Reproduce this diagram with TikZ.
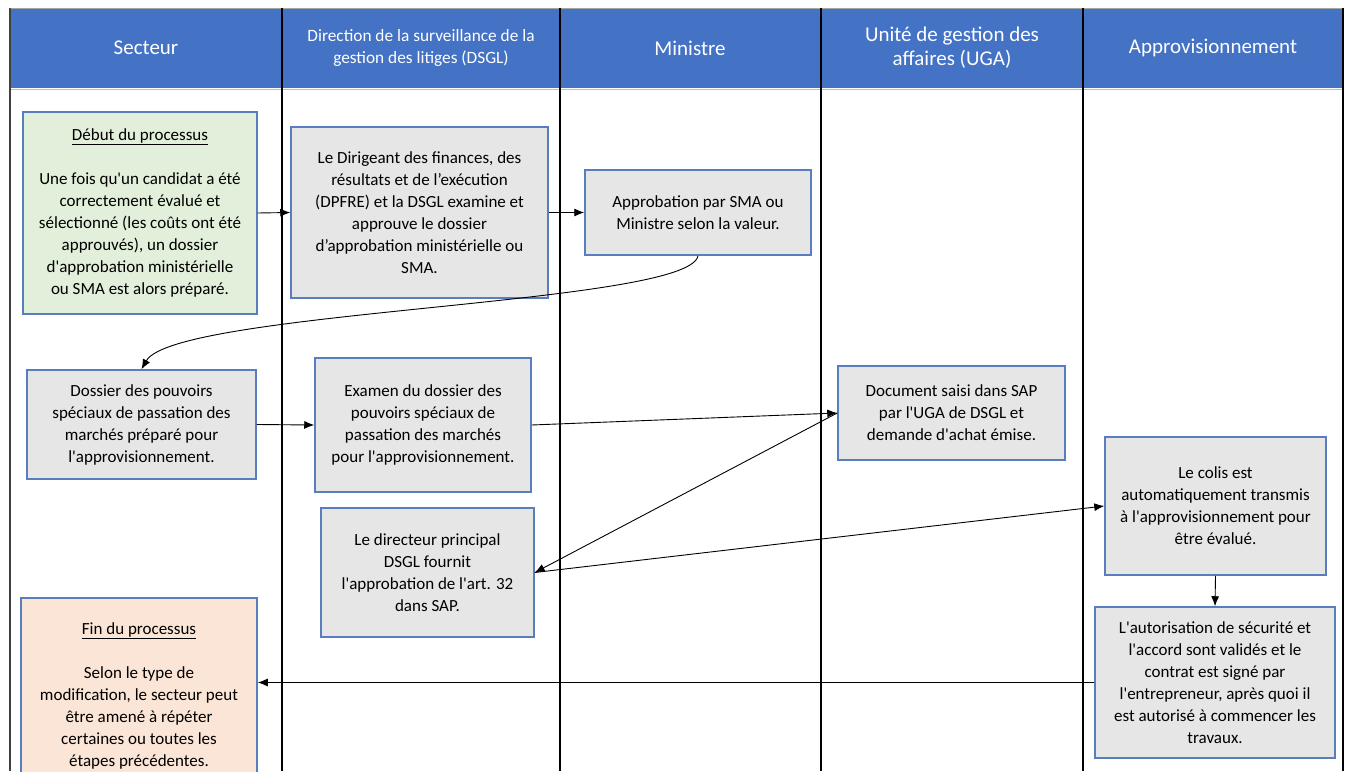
\documentclass[tikz,border=0pt]{standalone}
\usepackage{fontspec}
\setmainfont{Carlito}[Ligatures=TeXOff]
\usetikzlibrary{arrows.meta}
\definecolor{hdrblue}{HTML}{4472C4}
\definecolor{boxline}{HTML}{5A7DBF}
\definecolor{boxgray}{HTML}{E6E6E6}
\definecolor{boxgreen}{HTML}{E2EFDA}
\definecolor{boxpeach}{HTML}{FBE5D6}
\begin{document}
\begin{tikzpicture}[x=1pt,y=-1pt,
		every node/.style={align=center, inner sep=0pt, font=\fontsize{17}{22}\selectfont},
		lanehead/.style={text=white, font=\fontsize{21}{24}\selectfont},
		task/.style={draw=boxline, line width=1.5pt, fill=boxgray},
		flow/.style={-{Latex[length=10pt,width=8pt]}, line width=0.9pt}]
	\useasboundingbox (0,0) rectangle (1346,771);
	\clip (0,0) rectangle (1346,771);
	% en-tete des couloirs
	\fill [hdrblue] (10,8) rectangle (1343,88);
	\draw [black!35, line width=1pt] (10,8) -- (1343,8);
	\draw [black!25, line width=1pt] (10,89) -- (1343,89);
	\node [lanehead] (secteur) at (146,48) {Secteur};
	\node [lanehead, font=\fontsize{17.3}{21.5}\selectfont] (dsgl) at (421,48) {Direction de la surveillance de la\\gestion des litiges (DSGL)};
	\node [lanehead] (ministre) at (690,48) {Ministre};
	\node [lanehead] (uga) at (952,48) {Unité de gestion des\\affaires (UGA)};
	\node [lanehead] (appro) at (1213,48) {Approvisionnement};
	\draw [black!75, line width=2pt] (10,8) -- (10,771);
	\foreach \x in {282,560,821,1083,1343}
		\draw [line width=2.2pt] (\x,8) -- (\x,771);
	% etapes
	\node [task, fill=boxgreen, minimum width=234pt, minimum height=202pt] (start) at (140,213)
		{\underline{Début du processus}\\[22pt]Une fois qu'un candidat a été\\correctement évalué et\\sélectionné (les coûts ont été\\approuvés), un dossier\\d'approbation ministérielle\\ou SMA est alors préparé.};
	\node [task, minimum width=257pt, minimum height=171pt] (dpfre) at (419.5,212.5)
		{Le Dirigeant des finances, des\\résultats et de l’exécution\\(DPFRE) et la DSGL examine et\\approuve le dossier\\d’approbation ministérielle ou\\SMA.};
	\node [task, minimum width=226pt, minimum height=85pt] (approb) at (698,212.5)
		{Approbation par SMA ou\\Ministre selon la valeur.};
	\node [task, minimum width=229pt, minimum height=109pt] (dossier) at (141.5,424.5)
		{Dossier des pouvoirs\\spéciaux de passation des\\marchés préparé pour\\l'approvisionnement.};
	\node [task, minimum width=216pt, minimum height=134pt] (examen) at (423,425)
		{Examen du dossier des\\pouvoirs spéciaux de\\passation des marchés\\pour l'approvisionnement.};
	\node [task, minimum width=227pt, minimum height=94pt] (saisie) at (951.5,413)
		{Document saisi dans SAP\\par l'UGA de DSGL et\\demande d'achat émise.};
	\node [task, minimum width=213pt, minimum height=129pt] (directeur) at (427.5,572.5)
		{Le directeur principal\\DSGL fournit\\l'approbation de l'art. 32\\dans SAP.};
	\node [task, minimum width=221pt, minimum height=138pt] (colis) at (1215.5,506)
		{Le colis est\\automatiquement transmis\\à l'approvisionnement pour\\être évalué.};
	\node [task, minimum width=240pt, minimum height=151pt] (autor) at (1215,682.5)
		{L'autorisation de sécurité et\\l'accord sont validés et le\\contrat est signé par\\l'entrepreneur, après quoi il\\est autorisé à commencer les\\travaux.};
	\node [task, fill=boxpeach, minimum width=236pt, minimum height=196pt] (fin) at (139,696)
		{\underline{Fin du processus}\\[22pt]Selon le type de\\modification, le secteur peut\\être amené à répéter\\certaines ou toutes les\\étapes précédentes.};
	% liens
	\draw [flow] (start.east) -- (dpfre.west);
	\draw [flow] (dpfre.east) -- (approb.west);
	\draw [flow] (approb.south) .. controls (690,305) and (175,310) .. (dossier.north);
	\draw [flow] (dossier.east) -- (examen.west);
	\draw [flow] (examen.east) -- (saisie.west);
	\draw [flow] (saisie.west) -- (directeur.east);
	\draw [flow] (directeur.east) -- (colis.west);
	\draw [flow] (colis.south) -- (autor.north);
	\draw [flow] (autor.west) -- (autor.west -| fin.east);
\end{tikzpicture}
\end{document}
